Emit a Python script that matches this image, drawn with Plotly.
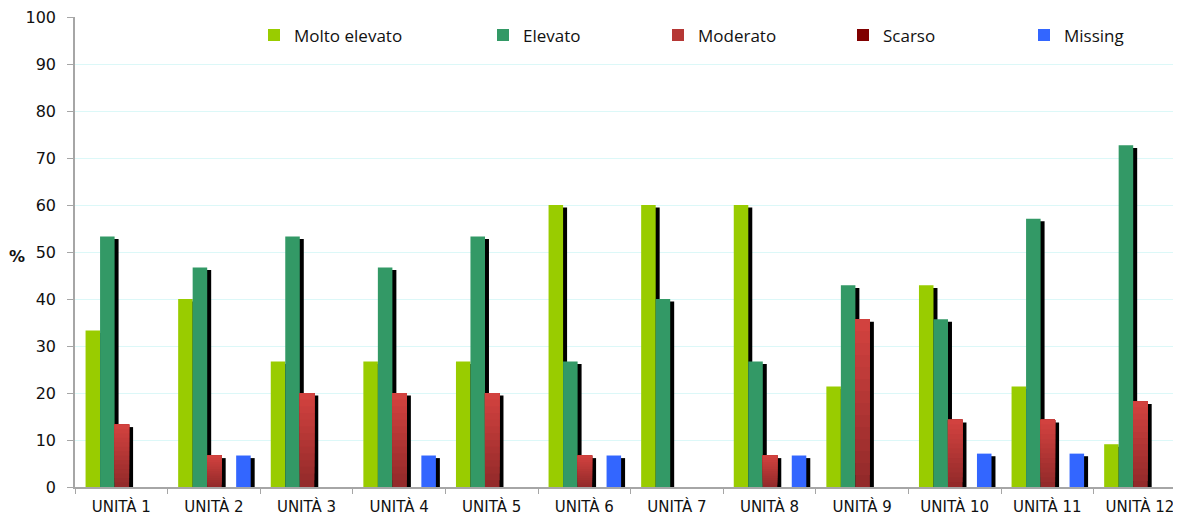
import plotly.graph_objects as go

# Dati (% per unità)
categorie = ["UNITÀ 1", "UNITÀ 2", "UNITÀ 3", "UNITÀ 4", "UNITÀ 5", "UNITÀ 6",
             "UNITÀ 7", "UNITÀ 8", "UNITÀ 9", "UNITÀ 10", "UNITÀ 11", "UNITÀ 12"]
molto_elevato = [33.3, 40.0, 26.7, 26.7, 26.7, 60.0, 60.0, 60.0, 21.4, 42.9, 21.4, 9.1]
elevato = [53.3, 46.7, 53.3, 46.7, 53.3, 26.7, 40.0, 26.7, 42.9, 35.7, 57.1, 72.7]
moderato = [13.3, 6.7, 20.0, 20.0, 20.0, 6.7, 0.0, 6.7, 35.7, 14.3, 14.3, 18.2]
scarso = [0, 0, 0, 0, 0, 0, 0, 0, 0, 0, 0, 0]
missing = [0.0, 6.7, 0.0, 6.7, 0.0, 6.7, 0.0, 6.7, 0.0, 7.1, 7.1, 0.0]
y_ticks = [0, 10, 20, 30, 40, 50, 60, 70, 80, 90, 100]

serie = [
    ("Molto elevato", molto_elevato, "#99cc00"),
    ("Elevato", elevato, "#339966"),
    ("Moderato", moderato, None),  # gradiente
    ("Scarso", scarso, "#800000"),
    ("Missing", missing, "#3366ff"),
]

# Geometria barre (unità di categoria)
LARG = 0.157
PASSO = 0.1566
OFF0 = -0.386
OMBRA_DX = 0.043
OMBRA_GIU = 0.55

# Gradiente per "Moderato"
N_GRAD = 14
col_basso = (0x93, 0x2a, 0x2a)
col_alto = (0xd2, 0x42, 0x3f)


def mix(k):
    t = k / (N_GRAD - 1)
    c = [round(col_basso[i] + (col_alto[i] - col_basso[i]) * t) for i in range(3)]
    return "rgb({},{},{})".format(*c)


fig = go.Figure()
legend_ids = ["legend", "legend2", "legend3", "legend4", "legend5"]

for i, (nome, valori, colore) in enumerate(serie):
    off = OFF0 + i * PASSO
    # ombra nera
    fig.add_trace(go.Bar(
        x=categorie, y=valori, base=-OMBRA_GIU, offset=off + OMBRA_DX, width=LARG,
        marker=dict(color="black", line=dict(width=0)),
        showlegend=False, hoverinfo="skip"
    ))
    if colore is not None:
        fig.add_trace(go.Bar(
            x=categorie, y=valori, offset=off, width=LARG, name=nome,
            marker=dict(color=colore, line=dict(width=0)),
            legend=legend_ids[i],
            hovertemplate=nome + ": %{y:.1f}%<extra></extra>"
        ))
    else:
        for k in range(N_GRAD):
            basi = [v * k / N_GRAD for v in valori]
            alt = [v - b for v, b in zip(valori, basi)]
            fig.add_trace(go.Bar(
                x=categorie, y=alt, base=basi, offset=off, width=LARG, name=nome,
                marker=dict(color=mix(k), line=dict(width=0)),
                legend=legend_ids[i], showlegend=(k == N_GRAD // 2),
                hoverinfo="skip" if k else None,
                customdata=valori,
                hovertemplate=nome + ": %{customdata:.1f}%<extra></extra>"
            ))

# area del grafico: 1106 x 470 px (la pagina aggiunge 8px di margine al body)
W = 1106.0
H = 470.0
X0 = 75  # bordo sinistro dell'area nella finestra

leg_px = [268, 497, 672, 857, 1038]
leg_layout = {}
for lid, px in zip(legend_ids, leg_px):
    leg_layout[lid] = dict(
        x=(px - 14 - X0) / W, xanchor="left", y=(487 - 35.5) / H, yanchor="middle",
        orientation="h", bgcolor="rgba(0,0,0,0)", borderwidth=0,
        font=dict(family="Open Sans", size=17, color="#111111"),
        itemclick=False, itemdoubleclick=False
    )

fig.update_layout(
    barmode="overlay",
    width=1173, height=515,
    margin=dict(l=67, r=0, t=9, b=36),
    paper_bgcolor="white", plot_bgcolor="white",
    font=dict(family="DejaVu Sans", size=16, color="#111111"),
    **leg_layout
)

# riquadro bianco della legenda che copre la griglia a 100
fig.add_shape(type="rect", xref="paper", yref="paper",
              x0=(222 - X0) / W, x1=1.0, y0=0.93, y1=1.01,
              fillcolor="white", line=dict(width=0), layer="between")

fig.add_annotation(text="<b>%</b>", xref="paper", yref="paper",
                   x=(17 - X0) / W, y=(487 - 256) / H, showarrow=False,
                   xanchor="center", yanchor="middle",
                   font=dict(family="DejaVu Sans", size=16, color="#111111"))

fig.update_xaxes(
    type="category", range=[-0.5, -0.5 + W / 92.6], automargin=False,
    showgrid=False, zeroline=False,
    showline=True, linecolor="#a6a6a6", linewidth=1.5,
    ticks="outside", tickson="boundaries", ticklen=5, tickcolor="#a6a6a6",
    ticklabelstandoff=5, ticklabeloverflow="allow",
    tickfont=dict(family="DejaVu Sans", size=15, color="#111111")
)

fig.update_yaxes(
    range=[0, 100], tickvals=y_ticks, automargin=False,
    showgrid=True, gridcolor="#dcf8f8", gridwidth=1,
    zeroline=False,
    showline=True, linecolor="#a6a6a6", linewidth=1.5,
    ticks="outside", ticklen=6, tickcolor="#a6a6a6",
    ticklabelstandoff=8, ticklabeloverflow="allow",
    tickfont=dict(family="DejaVu Sans", size=16, color="#111111")
)

fig.write_html("out.html")
